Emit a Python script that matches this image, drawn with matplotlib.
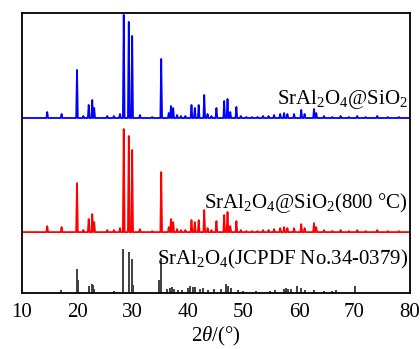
#!/usr/bin/env python3
"""XRD patterns of SrAl2O4@SiO2 (as made / 800 C) with the JCPDF 34-0379 sticks."""
import numpy as np
import matplotlib
matplotlib.use("Agg")
import matplotlib.pyplot as plt

plt.rcParams["font.family"] = ["Liberation Serif", "DejaVu Serif"]
plt.rcParams["mathtext.fontset"] = "custom"
plt.rcParams["mathtext.rm"] = "Liberation Serif"
plt.rcParams["mathtext.it"] = "Liberation Serif:italic"

# peak positions (2theta, deg) and heights (arb. units)
blue_pos = [14.58, 17.17, 19.95, 21.1, 22.06, 22.7, 23.05, 25.4, 26.6, 27.7,
            28.38, 29.29, 29.9, 31.3, 33.5, 35.14, 36.5, 36.9, 37.3, 38.0,
            38.7, 39.5, 40.6, 41.2, 41.9, 42.9, 43.5, 44.2, 45.1, 46.5,
            47.1, 47.6, 48.7, 49.5, 50.5, 51.5, 52.5, 53.5, 54.5, 55.5,
            56.6, 57.3, 57.9, 59.1, 60.4, 61.0, 62.7, 63.1, 64.5, 66.0,
            67.5, 69.0, 70.5, 72.0, 74.1, 76.0, 78.0]
blue_int = [6, 4, 48, 2, 13, 18, 10, 2, 2, 4,
            103, 96, 82, 3, 1, 59, 5, 12, 10, 3,
            2, 2, 13, 10, 13, 23, 4, 2, 10, 17,
            19, 6, 11, 2, 1, 1, 1, 2, 2, 3,
            4, 5, 4, 4, 8, 4, 9, 5, 2, 1,
            2, 1, 2, 1, 2, 1, 1]

red_pos = blue_pos
red_int = [6, 5, 49, 2, 13, 18, 10, 2, 2, 4,
           103, 96, 82, 3, 1, 60, 5, 13, 10, 3,
           2, 2, 12, 10, 12, 22, 4, 2, 11, 17,
           20, 6, 11, 2, 1, 1, 1, 2, 2, 3,
           4, 5, 4, 4, 8, 4, 9, 5, 2, 1,
           2, 1, 2, 1, 2, 1, 1]

ref_pos = [17.1, 19.9, 20.05, 22.06, 22.6, 22.85, 23.1, 26.6, 28.3, 29.3,
           29.9, 30.05, 34.8, 35.05, 36.2, 36.8, 37.1, 37.5, 38.2, 38.8,
           40.0, 40.3, 40.9, 41.2, 42.1, 42.7, 43.5, 44.6, 46.0, 46.9,
           47.2, 47.8, 49.0, 49.9, 52.3, 54.7, 55.6, 57.2, 57.6, 58.0,
           58.5, 59.7, 60.3, 61.0, 62.7, 64.5, 66.0, 66.6, 70.1]
ref_int = [3, 24, 13, 7, 9, 8, 4, 2, 44, 41,
           34, 8, 13, 35, 4, 5, 6, 4, 3, 3,
           5, 7, 6, 6, 4, 5, 3, 4, 4, 9,
           7, 5, 3, 2, 2, 2, 3, 4, 5, 4,
           4, 7, 5, 3, 3, 2, 2, 3, 7]

labels = [r"SrAl$_2$O$_4$@SiO$_2$",
          r"SrAl$_2$O$_4$@SiO$_2$(800 °C)",
          r"SrAl$_2$O$_4$(JCPDF No.34-0379)"]


def profile(pos, hts, w=0.15, x0=10, x1=80):
    # baseline -> apex -> baseline for each read peak
    xs, ys = [x0], [0]
    for p, h in sorted(zip(pos, hts)):
        xs += [p - w, p, p + w]
        ys += [0, h, 0]
    xs.append(x1); ys.append(0)
    return np.array(xs), np.array(ys, dtype=float)


fig = plt.figure(figsize=(4.2, 3.49), dpi=100)
ax = fig.add_axes([0.052, 0.160, 0.924, 0.803])

x, y = profile(blue_pos, blue_int)
ax.plot(x, y + 175, color="#0000ff", lw=1.3)
x, y = profile(red_pos, red_int)
ax.plot(x, y + 61, color="#ff0000", lw=1.3)
ax.vlines(ref_pos, 0, ref_int, color="#404040", lw=1.4)

ax.text(79.7, 189, labels[0], ha="right", va="baseline", fontsize=15)
ax.text(79.7, 85, labels[1], ha="right", va="baseline", fontsize=15)
ax.text(79.7, 29, labels[2], ha="right", va="baseline", fontsize=15)

ax.set_xlim(10, 80)
ax.set_ylim(0, 280)
ax.set_xticks(range(10, 81, 10))
ax.set_yticks([])
ax.tick_params(axis="x", length=0, labelsize=15, pad=7)
for s in ax.spines.values():
    s.set_linewidth(1.3)
ax.set_xlabel(r"$2\theta$/(°)", fontsize=15, labelpad=2)

fig.savefig("out.png", dpi=100)
